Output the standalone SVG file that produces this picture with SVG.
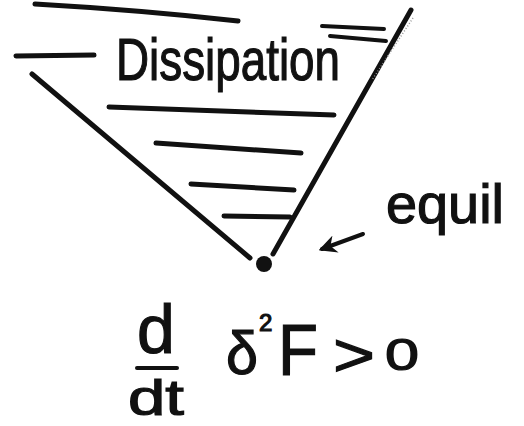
<svg xmlns="http://www.w3.org/2000/svg" width="524" height="426" viewBox="0 0 524 426">
<style>
.ln{stroke:#111;stroke-width:5;stroke-linecap:round;fill:none}
.th{stroke:#111;stroke-width:4;stroke-linecap:round;fill:none}
.tx{font-family:"Liberation Sans","DejaVu Sans",sans-serif;fill:#111;stroke:#111;stroke-width:1.2}
</style>
<defs>
<marker id="ah" viewBox="0 0 10 10" refX="8" refY="5" markerWidth="4.5" markerHeight="4.5" orient="auto">
<path d="M10,5 L0,0 L3,5 L0,10 Z" fill="#111"/>
</marker>
</defs>
<rect width="524" height="426" fill="#fff"/>
<g id="funnel">
<path class="ln" d="M35,4 Q140,10 238,21"/>
<path class="th" d="M322,26 L384,29"/>
<path class="th" d="M330,36 L386,41"/>
<path class="ln" d="M16,56 L94,55"/>
<path class="ln" d="M109,107 L334,115"/>
<path class="ln" d="M156,143 L301,153"/>
<path class="ln" d="M191,184 L294,190"/>
<path class="ln" d="M224,216 L290,217"/>
<path class="ln" d="M32,74 L250,258"/>
<path class="ln" d="M411,10 L273,254"/>
<path d="M413,18 L372,80" stroke="#999" stroke-width="1.5" stroke-dasharray="1 2" fill="none"/>
<circle cx="264" cy="264" r="8" fill="#111"/>
</g>
<g id="dissipation">
<text class="tx" x="116" y="80" font-size="60" textLength="224" lengthAdjust="spacingAndGlyphs">Dissipation</text>
</g>
<g id="equil">
<text class="tx" x="386" y="223" font-size="56" textLength="118" lengthAdjust="spacingAndGlyphs">equil</text>
</g>
<g id="connectors">
<path class="th" d="M363,234 L322,249" marker-end="url(#ah)"/>
</g>
<g id="formula">
<text class="tx" x="156" y="353" font-size="68" text-anchor="middle">d</text>
<path class="th" d="M137,368 L177,368"/>
<text class="tx" x="128" y="415" font-size="50" textLength="56" lengthAdjust="spacingAndGlyphs">dt</text>
<text class="tx" x="226" y="374" font-size="62" textLength="32" lengthAdjust="spacingAndGlyphs">δ</text>
<text class="tx" x="259" y="331" font-size="24">2</text>
<text class="tx" x="278" y="375" font-size="72" textLength="40" lengthAdjust="spacingAndGlyphs">F</text>
<text class="tx" x="333" y="376" font-size="62" textLength="42" lengthAdjust="spacingAndGlyphs">&gt;</text>
<text class="tx" x="385" y="370" font-size="45" textLength="34" lengthAdjust="spacingAndGlyphs">0</text>
</g>
</svg>
